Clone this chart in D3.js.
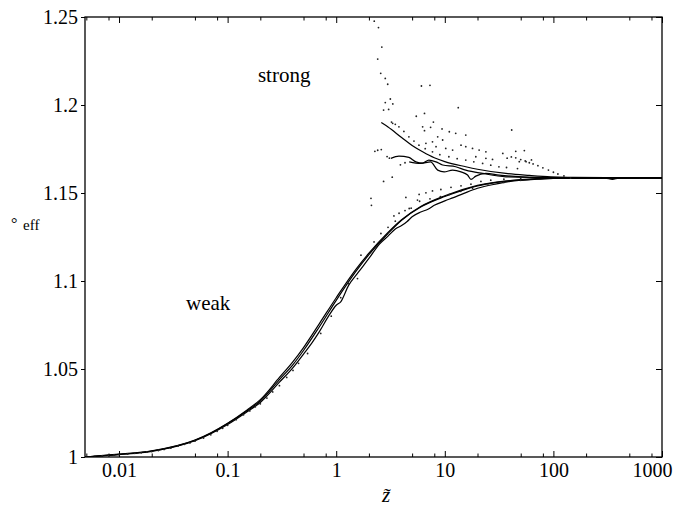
<!DOCTYPE html>
<html><head><meta charset="utf-8">
<script src="https://cdn.jsdelivr.net/npm/d3@7"></script>
<style>body{margin:0;background:#fff}text{font-family:"Liberation Serif",Tinos,"Times New Roman",serif;fill:#000}</style>
</head><body>
<svg id="c" width="676" height="507"></svg>
<script>
// ---- tick labels ----
const xTickValues = [0.01, 0.1, 1, 10, 100, 1000];
const xTickLabels = ["0.01", "0.1", "1", "10", "100", "1000"];
const yTickValues = [1, 1.05, 1.1, 1.15, 1.2, 1.25];
const yTickLabels = ["1", "1.05", "1.1", "1.15", "1.2", "1.25"];
const xMinorMultipliers = [2, 5, 8];

// ---- weak-coupling solid curves [z, value] ----
const weakLineA = [[0.00486,1.0000],[0.007,1.0008],[0.01,1.0015],[0.015,1.0024],[0.02,1.0034],[0.03,1.0055],[0.05,1.0095],[0.07,1.0135],[0.1,1.0190],[0.15,1.0262],[0.2,1.0318],[0.3,1.0440],[0.4,1.0525],[0.5,1.0605],[0.7,1.0740],[1,1.0890],[1.5,1.1050],[2,1.1150],[3,1.1270],[4,1.1345],[6,1.1420],[10,1.1480],[15,1.1518],[20,1.1540],[30,1.1560],[50,1.1574],[100,1.1583],[200,1.1586],[500,1.1586],[1000,1.1586]];
const weakLineB = [[0.00486,1.0000],[0.01,1.0016],[0.02,1.0035],[0.05,1.0096],[0.1,1.0192],[0.15,1.0266],[0.2,1.0326],[0.3,1.0452],[0.4,1.0542],[0.5,1.0622],[0.7,1.0758],[1,1.0905],[1.5,1.1062],[2,1.1158],[3,1.1276],[4,1.1348],[6,1.1423],[10,1.1484],[20,1.1543],[50,1.1576],[100,1.1584],[1000,1.1586]];
const weakLineC = [[0.00486,1.0000],[0.01,1.0014],[0.02,1.0032],[0.05,1.0092],[0.1,1.0185],[0.15,1.0256],[0.2,1.0310],[0.3,1.0425],[0.4,1.0508],[0.5,1.0585],[0.6,1.0650],[0.7,1.0712],[0.85,1.0800],[1.0,1.0862],[1.1,1.0882],[1.3,1.0975],[1.6,1.1050],[2,1.1128],[2.5,1.1210],[3,1.1255],[3.5,1.1295],[4,1.1315],[4.5,1.1338],[5,1.1365],[6,1.1392],[7,1.1408],[8,1.1430],[10,1.1455],[12,1.1474],[15,1.1498],[20,1.1527],[30,1.1552],[40,1.1566],[70,1.1578],[100,1.1583],[1000,1.1586]];

// ---- strong-coupling solid curves ----
const strongLineA = [[2.6,1.1900],[3,1.1875],[4,1.1815],[5,1.1770],[6.25,1.1734],[8,1.1700],[10,1.1678],[15.6,1.1649],[20,1.1635],[36.5,1.1611],[60,1.1600],[95,1.1592],[150,1.1589],[300,1.1587],[1000,1.1586]];
const strongLineB = [[3.19,1.1697],[3.78,1.1710],[4.67,1.1702],[5.42,1.1677],[6.25,1.1670],[7.13,1.1687],[8.3,1.1677],[9.55,1.1659],[12.6,1.1649],[15.6,1.1630],[22.3,1.1611],[36.5,1.1592],[100,1.1587],[1000,1.1586]];
const strongLineC = [[4.7,1.1677],[6.0,1.1668],[7.4,1.1677],[8.6,1.1630],[9.85,1.1620],[11.8,1.1630],[14.1,1.1620],[16.2,1.1602],[17.4,1.1577],[19.3,1.1596],[23.9,1.1611],[31.6,1.1602],[95,1.1586],[300,1.1585],[350,1.1577],[400,1.1585],[1000,1.1586]];

// ---- dotted (sampled) series ----
const weakDots = [[0.005,1.0001],[0.006,1.0004],[0.007,1.0007],[0.008,1.0010],[0.009,1.0012],[0.01,1.0013],[0.012,1.0017],[0.014,1.0021],[0.016,1.0024],[0.018,1.0029],[0.02,1.0031],[0.023,1.0037],[0.026,1.0043],[0.03,1.0050],[0.035,1.0062],[0.04,1.0072],[0.045,1.0080],[0.05,1.0090],[0.06,1.0108],[0.07,1.0126],[0.08,1.0146],[0.09,1.0163],[0.1,1.0180],[0.12,1.0212],[0.14,1.0240],[0.16,1.0262],[0.18,1.0285],[0.2,1.0302],[0.23,1.0335],[0.26,1.0370],[0.3,1.0405],[0.35,1.0452],[0.4,1.0492],[0.45,1.0532],[0.545,1.0588],[0.72,1.0702],[0.9,1.0800],[1.1,1.0905],[1.3,1.0985],[1.57,1.1014],[1.69,1.1147],[2.09,1.1470],[2.23,1.1222],[2.58,1.1270],[3,1.1305],[3.5,1.1340]];
const weakUpperDots = [[4.38,1.1475],[5.8,1.1492],[6.7,1.1501],[7.7,1.1512],[9.2,1.1520],[11.4,1.1532],[14.1,1.1541],[17.4,1.1550],[21.5,1.1566],[26.5,1.1573],[35,1.1578],[50,1.1582]];
const weakLowerDots = [[3.4,1.1370],[3.79,1.1385],[4.3,1.1400],[4.9,1.1414],[5.86,1.1453],[7.3,1.1467],[9.1,1.1479],[11,1.1492],[14,1.1510],[18,1.1527],[25,1.1545],[35,1.1560],[50,1.1572]];
const strongDots = [[3.23,1.1903],[3.31,1.1896],[3.5,1.1890],[3.78,1.1876],[4.2,1.1850],[4.67,1.1819],[5.2,1.1795],[5.78,1.1772],[6.6,1.1752],[7.7,1.1734],[9.0,1.1718],[10.9,1.1706],[13,1.1695],[15.6,1.1687],[18.5,1.1677],[22.3,1.1668],[26.5,1.1658],[31.5,1.1649],[37,1.1645],[46.7,1.1639]];
const strongTailDots = [[37.5,1.1698],[41,1.1705],[45,1.1700],[50,1.1690],[55,1.1682],[60,1.1672],[65,1.1665],[72,1.1655],[80,1.1643],[90,1.1630],[100,1.1618],[110,1.1608],[125,1.1597],[144,1.1585]];
const scatterDots = [[2.24,1.2476],[2.45,1.2440],[2.63,1.2329],[2.41,1.2261],[2.57,1.2180],[2.83,1.2151],[2.98,1.2118],[2.83,1.2014],[3.15,1.2034],[3.32,1.2006],[2.73,1.1971],[3.04,1.1975],[6.09,1.2108],[7.3,1.2112],[6.5,1.1952],[5.46,1.1936],[13.3,1.1985],[41.3,1.1858],[9.43,1.1864],[7.85,1.1903],[6.5,1.1854],[2.27,1.1737],[2.41,1.1743],[2.60,1.1747],[2.73,1.1566],[2.11,1.1430],[2.94,1.1707],[3.09,1.1698],[3.28,1.1590],[6.25,1.1876],[7.4,1.1873],[8.6,1.1819],[9.55,1.1801],[11.0,1.1848],[12.6,1.1839],[15.6,1.1829],[8.3,1.1763],[10.2,1.1753],[11.8,1.1744],[14.1,1.1772],[15.6,1.1763],[18.0,1.1753],[20.7,1.1744],[23.9,1.1734],[19.3,1.1706],[23.9,1.1697],[27.5,1.1691],[34.2,1.1725],[7.7,1.1791],[6.7,1.1782],[45,1.1737],[54,1.1741],[56,1.1678],[62.8,1.1688],[48.5,1.1678],[4.7,1.1412],[5.6,1.1460],[3.9,1.1660],[4.3,1.1672]];

// ---- annotations ----
const labels = [{t:"strong", z:0.19, v:1.2128}, {t:"weak", z:0.0414, v:1.0835}];

const FONT = '"Liberation Serif", Tinos, "Times New Roman", serif';
const svg = d3.select("#c");
const L=85, R=662, T=17, B=457;
const x = d3.scaleLog().domain([0.00486, 1000]).range([L, R]);
const y = d3.scaleLinear().domain([1, 1.25]).range([B, T]);

const minorX = [];
[0.001,0.01,0.1,1,10,100].forEach(d => xMinorMultipliers.forEach(m => { const v=d*m; if (v>=0.00486 && v<=1000) minorX.push(v); }));

function styleAxis(g){ g.attr("font-family",FONT); g.select(".domain").remove(); g.selectAll("line").attr("stroke","#000").attr("stroke-width",1); g.selectAll("text").attr("font-family",FONT).attr("font-size",20).attr("fill","#000"); }

// bottom
const gb = svg.append("g").attr("transform",`translate(0,${B})`)
  .call(d3.axisBottom(x).tickValues(xTickValues).tickFormat((d,i)=>xTickLabels[i]).tickSizeInner(-6).tickSizeOuter(0).tickPadding(6)).call(styleAxis);
gb.selectAll("text").filter(d=>d===1000).attr("dx",-10);
svg.append("g").attr("transform",`translate(0,${B})`)
  .call(d3.axisBottom(x).tickValues(minorX).tickFormat("").tickSizeInner(-3.5).tickSizeOuter(0)).call(styleAxis);
// top
svg.append("g").attr("transform",`translate(0,${T})`)
  .call(d3.axisTop(x).tickValues(xTickValues).tickFormat("").tickSizeInner(-6).tickSizeOuter(0)).call(styleAxis);
svg.append("g").attr("transform",`translate(0,${T})`)
  .call(d3.axisTop(x).tickValues(minorX).tickFormat("").tickSizeInner(-3.5).tickSizeOuter(0)).call(styleAxis);
// left
svg.append("g").attr("transform",`translate(${L},0)`)
  .call(d3.axisLeft(y).tickValues(yTickValues).tickFormat((d,i)=>yTickLabels[i]).tickSizeInner(4).tickSizeOuter(0).tickPadding(3)).call(styleAxis);
// right
svg.append("g").attr("transform",`translate(${R},0)`)
  .call(d3.axisRight(y).tickValues(yTickValues).tickFormat("").tickSizeInner(-6).tickSizeOuter(0)).call(styleAxis);

svg.append("defs").append("clipPath").attr("id","clip").append("rect").attr("x",L).attr("y",T).attr("width",R-L).attr("height",B-T);
const plot = svg.append("g").attr("clip-path","url(#clip)");

const line = d3.line().x(d=>x(d[0])).y(d=>y(d[1])).curve(d3.curveMonotoneX);
[weakLineA, weakLineB, weakLineC, strongLineA, strongLineB, strongLineC].forEach(s => {
  plot.append("path").datum(s).attr("d", line).attr("fill","none").attr("stroke","#000").attr("stroke-width",1.2);
});
[weakDots, weakUpperDots, weakLowerDots, strongDots, strongTailDots, scatterDots].forEach(s => {
  plot.append("g").selectAll("circle").data(s).join("circle")
    .attr("cx", d=>x(d[0])).attr("cy", d=>y(d[1])).attr("r", 0.9).attr("fill","#222");
});

// frame
svg.append("rect").attr("x",L).attr("y",T).attr("width",R-L).attr("height",B-T).attr("fill","none").attr("stroke","#000").attr("stroke-width",1.3);

// annotations
labels.forEach(l => svg.append("text").attr("x", x(l.z)).attr("y", y(l.v)).attr("font-family",FONT).attr("font-size",21).text(l.t));

// axis titles
svg.append("text").attr("x",386).attr("y",502).attr("text-anchor","middle").attr("font-family",FONT).attr("font-size",21).attr("font-style","italic").text("z\u0303");
svg.append("text").attr("x",11).attr("y",229).attr("font-family",FONT).attr("font-size",16).text("\u00B0");
svg.append("text").attr("x",23).attr("y",230).attr("font-family",FONT).attr("font-size",15).text("eff");
</script>
</body></html>
